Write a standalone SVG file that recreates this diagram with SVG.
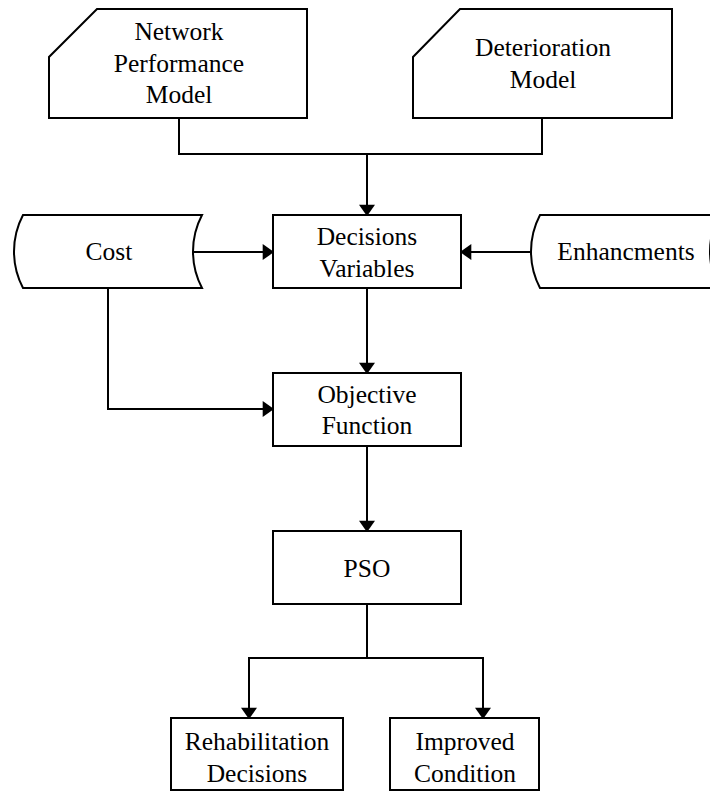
<svg xmlns="http://www.w3.org/2000/svg" width="710" height="792" viewBox="0 0 710 792">
  <style>
    .shape { fill: #ffffff; stroke: #000000; stroke-width: 2; }
    .wire { fill: none; stroke: #000000; stroke-width: 2; }
    .arrow { fill: none; stroke: #000000; stroke-width: 2; marker-end: url(#head); }
    .label { font-family: 'Liberation Serif', serif; font-size: 25.5px; fill: #000000; text-anchor: middle; }
  </style>
  <defs>
    <!-- filled triangular arrowhead, tip extends 8px past the line end -->
    <marker id="head" markerUnits="userSpaceOnUse" markerWidth="12" markerHeight="16" refX="2" refY="7" orient="auto" viewBox="0 0 10 14">
      <path d="M0,0 L10,7 L0,14 z" fill="#000000"/>
    </marker>
  </defs>
  <rect width="710" height="792" fill="#ffffff"/>

  <!-- connectors -->
  <g id="connectors">
    <polyline class="wire" points="179,118 179,154 542,154 542,118"/>
    <line class="arrow" x1="367" y1="154" x2="367" y2="207"/>
    <line class="arrow" x1="193" y1="252" x2="265" y2="252"/>
    <line class="arrow" x1="530" y1="252" x2="469" y2="252"/>
    <line class="arrow" x1="367" y1="288" x2="367" y2="365"/>
    <polyline class="arrow" points="108,288 108,409 265,409"/>
    <line class="arrow" x1="367" y1="446" x2="367" y2="523"/>
    <polyline class="wire" points="367,604 367,658"/>
    <polyline class="arrow" points="367,658 249,658 249,710"/>
    <polyline class="arrow" points="367,658 483,658 483,710"/>
  </g>

  <g class="label">
    <!-- manual input: network performance model -->
    <g id="network-performance-model">
      <path class="shape" d="M97,9 L307,9 L307,118 L49,118 L49,57 Z"/>
      <text x="179" y="40">Network</text>
      <text x="179" y="72">Performance</text>
      <text x="179" y="103">Model</text>
    </g>

    <!-- manual input: deterioration model -->
    <g id="deterioration-model">
      <path class="shape" d="M460,9 L672,9 L672,118 L413,118 L413,57 Z"/>
      <text x="543" y="56">Deterioration</text>
      <text x="543" y="88">Model</text>
    </g>

    <!-- stored data: cost -->
    <g id="cost">
      <path class="shape" d="M23,288 A78.5,78.5 0 0 1 23,215 L202,215 A78.5,78.5 0 0 0 202,288 Z"/>
      <text x="109" y="260">Cost</text>
    </g>

    <!-- stored data: enhancements (runs past the right edge) -->
    <g id="enhancements">
      <path class="shape" d="M540,288 A78.5,78.5 0 0 1 540,215 L719,215 A78.5,78.5 0 0 0 719,288 Z"/>
      <text x="626" y="260">Enhancments</text>
    </g>

    <g id="decision-variables">
      <rect class="shape" x="273" y="215" width="188" height="73"/>
      <text x="367" y="245">Decisions</text>
      <text x="367" y="277">Variables</text>
    </g>

    <g id="objective-function">
      <rect class="shape" x="273" y="373" width="188" height="73"/>
      <text x="367" y="403">Objective</text>
      <text x="367" y="434">Function</text>
    </g>

    <g id="pso">
      <rect class="shape" x="273" y="531" width="188" height="73"/>
      <text x="367" y="577">PSO</text>
    </g>

    <g id="rehabilitation-decisions">
      <rect class="shape" x="171" y="718" width="172" height="72"/>
      <text x="257" y="750">Rehabilitation</text>
      <text x="257" y="782">Decisions</text>
    </g>

    <g id="improved-condition">
      <rect class="shape" x="390" y="718" width="149" height="72"/>
      <text x="465" y="750">Improved</text>
      <text x="465" y="782">Condition</text>
    </g>
  </g>
</svg>
